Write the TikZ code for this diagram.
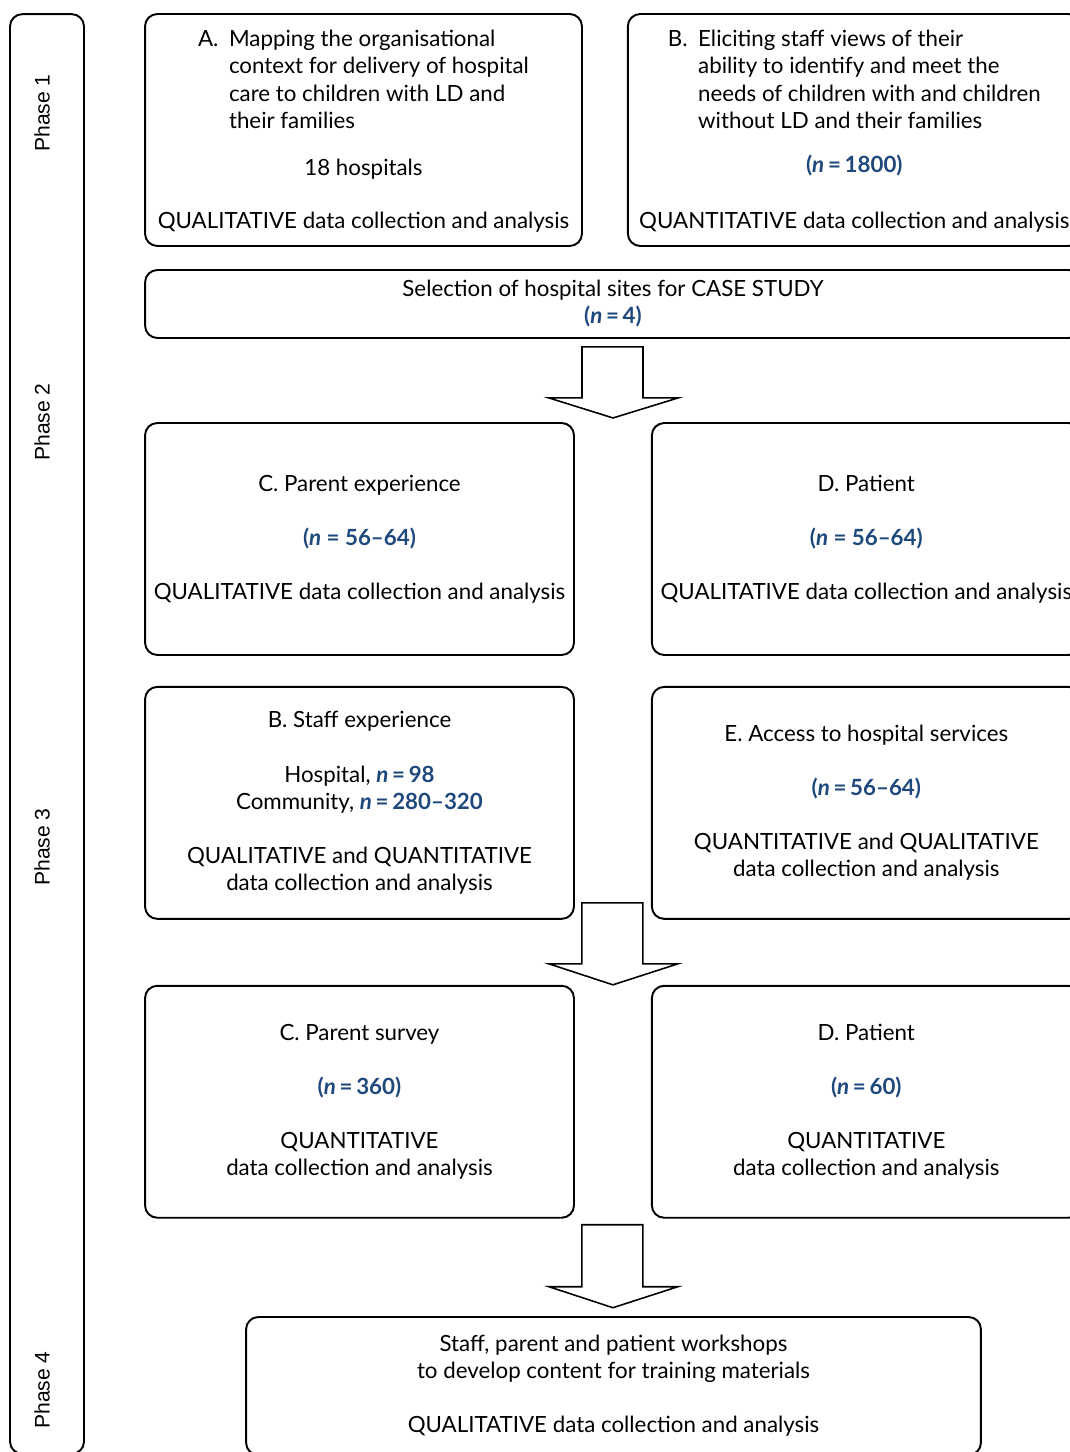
\documentclass[tikz,border=0pt]{standalone}
\usepackage{fontspec}
\setmainfont{Lato}
\newfontfamily\phasefont{Liberation Sans}
\usetikzlibrary{positioning,calc}
\definecolor{nblue}{RGB}{31,73,125}
\newcommand{\nval}[1]{\textcolor{nblue}{\textbf{#1}}}

\begin{document}
\begin{tikzpicture}[x=0.02cm,y=-0.02cm,line width=1.1pt,
  box/.style={draw,rounded corners=7pt,align=center,inner sep=0pt,font=\fontsize{12.7}{15.4}\selectfont},
  halfbox/.style={box,minimum width=8.58cm,minimum height=4.64cm},
  phase/.style={rotate=90,font=\phasefont\fontsize{12}{14}\selectfont},
  bigarrow/.style={draw,fill=white,line width=0.9pt,line join=miter}]
\useasboundingbox (0,0) rectangle (1070,1452);

% phase column
\node[draw,rounded corners=7pt,minimum width=1.48cm,minimum height=28.8cm] (col) at (47,734) {};
\node[phase] (ph1) at (42,113) {Phase 1};
\node[phase] (ph2) at (42,422) {Phase 2};
\node[phase] (ph3) at (42,847) {Phase 3};
\node[phase] (ph4) at (42,1390) {Phase 4};

% phase 1
\node[box,minimum width=8.74cm,minimum height=4.64cm] (mapA) at (363.5,130) {%
  \begin{tabular}[b]{@{}l@{\hspace{6pt}}l@{}}
  A. & Mapping the organisational\\
     & context for delivery of hospital\\
     & care to children with LD and\\
     & their families
  \end{tabular}\\[0.75\baselineskip]
  18 hospitals\\[0.95\baselineskip]
  QUALITATIVE data collection and analysis};
\node[box,minimum width=9.06cm,minimum height=4.64cm,right=0.88cm of mapA] (elicB) {%
  \begin{tabular}[b]{@{}l@{\hspace{6pt}}l@{}}
  B. & Eliciting staff views of their\\
     & ability to identify and meet the\\
     & needs of children with and children\\
     & without LD and their families
  \end{tabular}\\[0.65\baselineskip]
  \nval{(\textit{n}\,=\,1800)}\\[1.05\baselineskip]
  QUANTITATIVE data collection and analysis};

% phase 2
\node[box,minimum width=18.72cm,minimum height=1.36cm] (sel) at (613,304)
  {Selection of hospital sites for CASE STUDY\\ \nval{(\textit{n}\,=\,4)}};
\node[halfbox] (parC) at (359.5,539) {C. Parent experience\\[\baselineskip]
  \nval{(\textit{n} = 56--64)}\\[\baselineskip]
  QUALITATIVE data collection and analysis};
\node[halfbox,right=1.52cm of parC] (patD) {D. Patient\\[\baselineskip]
  \nval{(\textit{n} = 56--64)}\\[\baselineskip]
  QUALITATIVE data collection and analysis};

% phase 3
\node[halfbox,below=0.6cm of parC] (staffB) {B. Staff experience\\[\baselineskip]
  Hospital, \nval{\textit{n}\,=\,98}\\
  Community, \nval{\textit{n}\,=\,280--320}\\[\baselineskip]
  QUALITATIVE and QUANTITATIVE\\
  data collection and analysis};
\node[halfbox,right=1.52cm of staffB] (accE) {E. Access to hospital services\\[\baselineskip]
  \nval{(\textit{n}\,=\,56--64)}\\[\baselineskip]
  QUANTITATIVE and QUALITATIVE\\
  data collection and analysis};
\node[halfbox,below=1.30cm of staffB] (surC) {C. Parent survey\\[\baselineskip]
  \nval{(\textit{n}\,=\,360)}\\[\baselineskip]
  QUANTITATIVE\\
  data collection and analysis};
\node[halfbox,right=1.52cm of surC] (patD2) {D. Patient\\[\baselineskip]
  \nval{(\textit{n}\,=\,60)}\\[\baselineskip]
  QUANTITATIVE\\
  data collection and analysis};

% phase 4
\node[box,minimum width=14.7cm,minimum height=2.76cm] (work) at (613.5,1386)
  {Staff, parent and patient workshops\\
  to develop content for training materials\\[\baselineskip]
  QUALITATIVE data collection and analysis};

% block arrows
\coordinate (ar1) at ($(sel.south)+(0,8)$);
\coordinate (ar2) at ($(staffB.south east)!0.5!(accE.south west)+(0,-17)$);
\coordinate (ar3) at ($(surC.south east)!0.5!(patD2.south west)+(0,6)$);
\draw[bigarrow] (ar1) ++(-31,0) -- ++(0,51) -- ++(-33,0) -- ++(64,20) -- ++(65,-20)
  -- ++(-35,0) -- ++(0,-51) -- cycle;
\draw[bigarrow] (ar2) ++(-31,0) -- ++(0,61) -- ++(-33,0) -- ++(64,21) -- ++(65,-21)
  -- ++(-35,0) -- ++(0,-61) -- cycle;
\draw[bigarrow] (ar3) ++(-31,0) -- ++(0,62) -- ++(-33,0) -- ++(64,21) -- ++(65,-21)
  -- ++(-35,0) -- ++(0,-62) -- cycle;
\end{tikzpicture}
\end{document}
